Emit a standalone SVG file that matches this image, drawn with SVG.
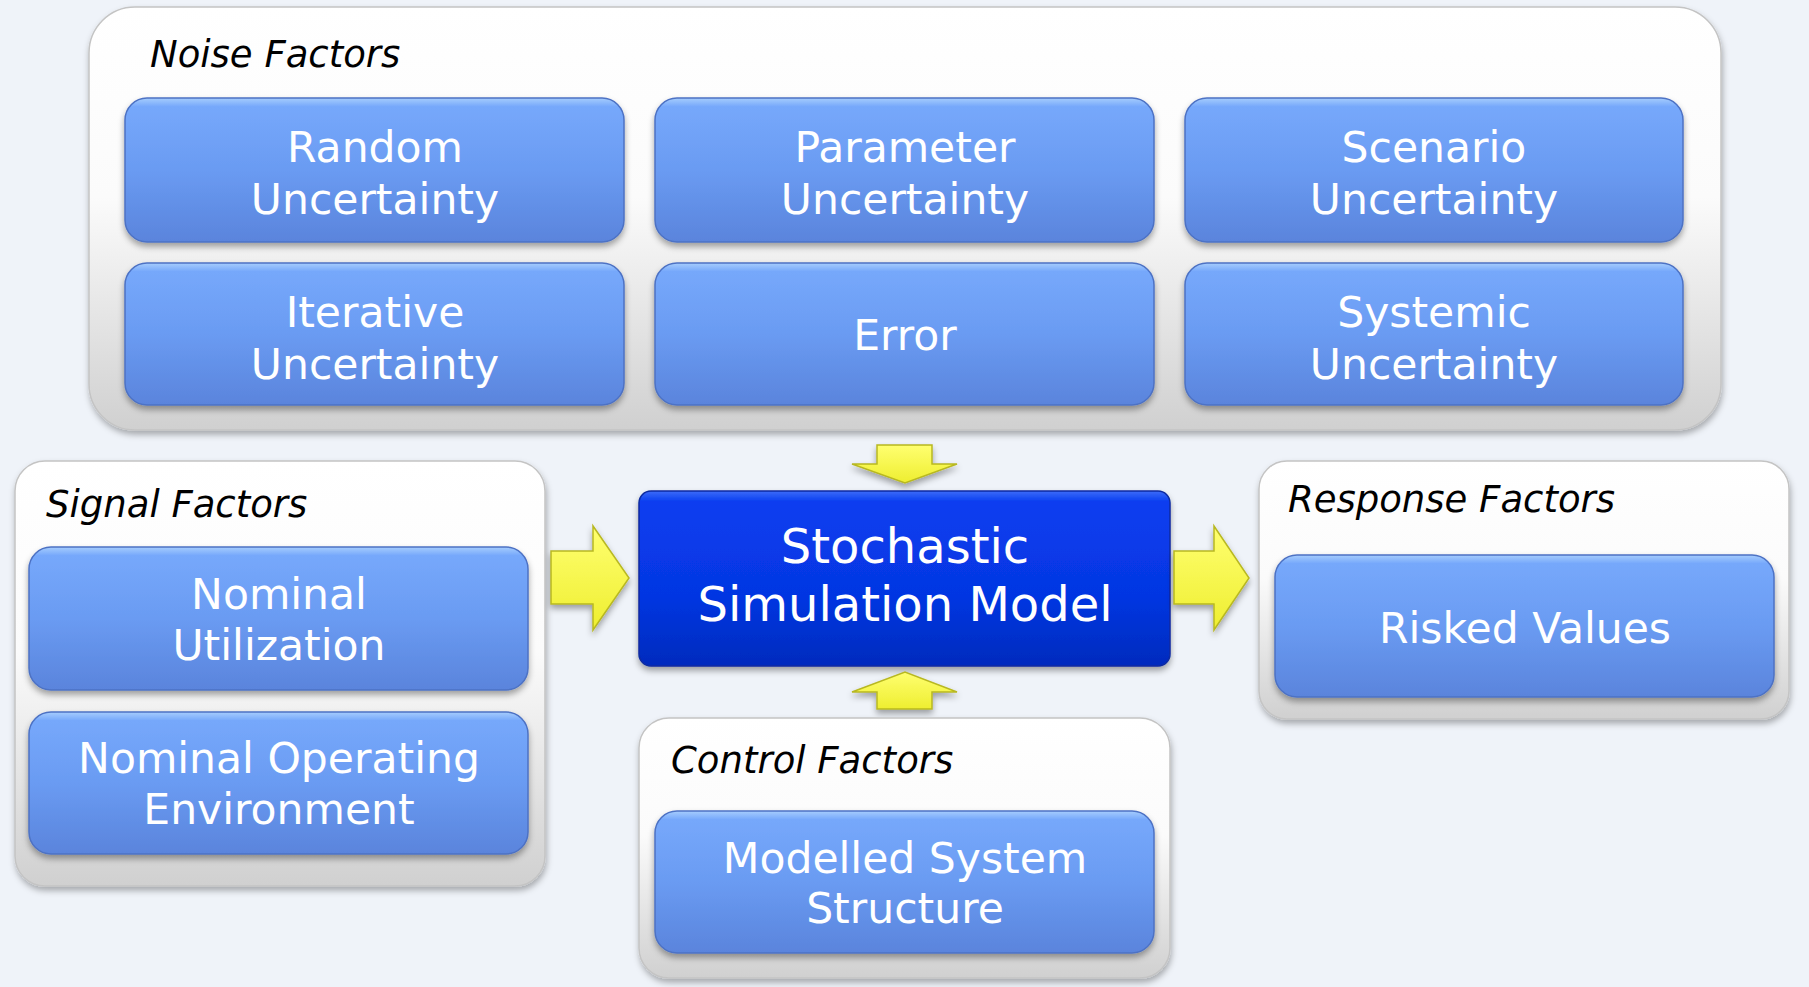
<svg xmlns="http://www.w3.org/2000/svg" width="1809" height="987" viewBox="0 0 1809 987">
<defs>
  <linearGradient id="contG" x1="0" y1="0" x2="0" y2="1">
    <stop offset="0" stop-color="#ffffff"/>
    <stop offset="0.45" stop-color="#fbfbfb"/>
    <stop offset="1" stop-color="#d0d0d0"/>
  </linearGradient>
  <linearGradient id="boxG" x1="0" y1="0" x2="0" y2="1">
    <stop offset="0" stop-color="#a6cdfd"/>
    <stop offset="0.06" stop-color="#76a8fb"/>
    <stop offset="0.5" stop-color="#6a9bf2"/>
    <stop offset="1" stop-color="#5a84dc"/>
  </linearGradient>
  <linearGradient id="coreG" x1="0" y1="0" x2="0" y2="1">
    <stop offset="0" stop-color="#3c6cf8"/>
    <stop offset="0.06" stop-color="#0a3ef0"/>
    <stop offset="0.6" stop-color="#0536e2"/>
    <stop offset="1" stop-color="#032bbd"/>
  </linearGradient>
  <linearGradient id="arrG" x1="0" y1="0" x2="0" y2="1">
    <stop offset="0" stop-color="#ffff70"/>
    <stop offset="1" stop-color="#eeee30"/>
  </linearGradient>
  <filter id="sh" x="-10%" y="-10%" width="120%" height="130%">
    <feDropShadow dx="0" dy="4" stdDeviation="3" flood-color="#000" flood-opacity="0.35"/>
  </filter>
  <filter id="shc" x="-10%" y="-10%" width="120%" height="130%">
    <feDropShadow dx="1" dy="4" stdDeviation="3" flood-color="#000" flood-opacity="0.3"/>
  </filter>
</defs>
<style>
  .cont { fill: url(#contG); stroke: #c4c4c4; stroke-width: 1.5; filter: url(#shc); }
  .box { fill: url(#boxG); stroke: #4d72c4; stroke-width: 1.5; filter: url(#sh); }
  .core { fill: url(#coreG); stroke: #0a2aa0; stroke-width: 1.5; filter: url(#sh); }
  .lbl { font-family: "DejaVu Sans", Verdana, sans-serif; font-style: italic; font-size: 37px; fill: #000; }
  .t { font-family: "DejaVu Sans", Verdana, sans-serif; font-size: 42.5px; fill: #fff; text-anchor: middle; }
  .tc { font-family: "DejaVu Sans", Verdana, sans-serif; font-size: 48px; fill: #fff; text-anchor: middle; }
  .arr { fill: url(#arrG); stroke: #b8b820; stroke-width: 1.5; stroke-linejoin: miter; filter: url(#sh); }
</style>
<rect x="0" y="0" width="1809" height="987" fill="#eff3f9"/>

<g id="noise-factors">
  <rect class="cont" x="89" y="7" width="1632" height="423" rx="46" ry="46"/>
  <text class="lbl" x="150" y="67">Noise Factors</text>
</g>
<g id="random-uncertainty">
  <rect class="box" x="125" y="98" width="499" height="144" rx="22"/>
  <text class="t" x="375" y="162">Random</text>
  <text class="t" x="375" y="214">Uncertainty</text>
</g>
<g id="parameter-uncertainty">
  <rect class="box" x="655" y="98" width="499" height="144" rx="22"/>
  <text class="t" x="905" y="162">Parameter</text>
  <text class="t" x="905" y="214">Uncertainty</text>
</g>
<g id="scenario-uncertainty">
  <rect class="box" x="1185" y="98" width="498" height="144" rx="22"/>
  <text class="t" x="1434" y="162">Scenario</text>
  <text class="t" x="1434" y="214">Uncertainty</text>
</g>
<g id="iterative-uncertainty">
  <rect class="box" x="125" y="263" width="499" height="142" rx="22"/>
  <text class="t" x="375" y="327">Iterative</text>
  <text class="t" x="375" y="379">Uncertainty</text>
</g>
<g id="error">
  <rect class="box" x="655" y="263" width="499" height="142" rx="22"/>
  <text class="t" x="905" y="350">Error</text>
</g>
<g id="systemic-uncertainty">
  <rect class="box" x="1185" y="263" width="498" height="142" rx="22"/>
  <text class="t" x="1434" y="327">Systemic</text>
  <text class="t" x="1434" y="379">Uncertainty</text>
</g>

<g id="signal-factors">
  <rect class="cont" x="15" y="461" width="530" height="425" rx="30"/>
  <text class="lbl" x="46" y="517">Signal Factors</text>
</g>
<g id="nominal-utilization">
  <rect class="box" x="29" y="547" width="499" height="143" rx="22"/>
  <text class="t" x="279" y="609">Nominal</text>
  <text class="t" x="279" y="660">Utilization</text>
</g>
<g id="nominal-operating-environment">
  <rect class="box" x="29" y="712" width="499" height="142" rx="22"/>
  <text class="t" x="279" y="773">Nominal Operating</text>
  <text class="t" x="279" y="824">Environment</text>
</g>

<g id="stochastic-simulation-model">
  <rect class="core" x="639" y="491" width="531" height="175" rx="12"/>
  <text class="tc" x="905" y="563">Stochastic</text>
  <text class="tc" x="905" y="621">Simulation Model</text>
</g>

<g id="response-factors">
  <rect class="cont" x="1259" y="461" width="530" height="258" rx="28"/>
  <text class="lbl" x="1288" y="512">Response Factors</text>
</g>
<g id="risked-values">
  <rect class="box" x="1275" y="555" width="499" height="142" rx="22"/>
  <text class="t" x="1525" y="643">Risked Values</text>
</g>

<g id="control-factors">
  <rect class="cont" x="639" y="718" width="531" height="260" rx="30"/>
  <text class="lbl" x="671" y="773">Control Factors</text>
</g>
<g id="modelled-system-structure">
  <rect class="box" x="655" y="811" width="499" height="142" rx="22"/>
  <text class="t" x="905" y="873">Modelled System</text>
  <text class="t" x="905" y="923">Structure</text>
</g>

<g id="connectors">
  <polygon class="arr" points="877,445 932,445 932,464 957,464 905,483 852,464 877,464"/>
  <polygon class="arr" points="877,709 932,709 932,692 957,692 905,672 852,692 877,692"/>
  <polygon class="arr" points="551,551 593,551 593,526 629,578 593,630 593,604 551,604"/>
  <polygon class="arr" points="1174,551 1214,551 1214,526 1249,578 1214,630 1214,604 1174,604"/>
</g>
</svg>
